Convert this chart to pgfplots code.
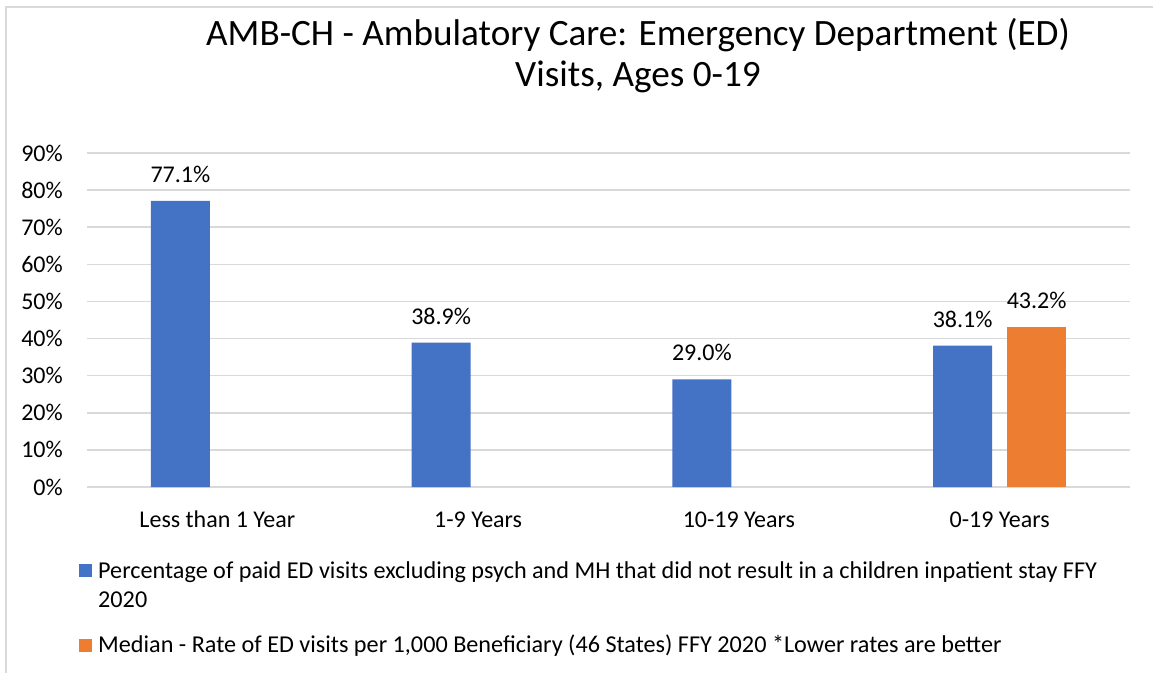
\documentclass[border=0pt]{standalone}
\usepackage{pgfplots}
\pgfplotsset{compat=1.18}
\usepackage{fontspec}
\setmainfont{Carlito}
\definecolor{cblue}{HTML}{4472C4}
\definecolor{corange}{HTML}{ED7D31}
\definecolor{cgrid}{HTML}{D9D9D9}
\begin{document}
\begin{tikzpicture}[x=1pt,y=1pt]
\path[use as bounding box] (0,0) rectangle (1153,-673);
\draw[cgrid, line width=2pt] (6,-673) -- (6,-7) -- (1153,-7);
\begin{axis}[
  at={(87pt,-487pt)}, anchor=south west,
  width=1043pt, height=334pt, scale only axis,
  xmin=-0.5, xmax=3.5, ymin=0, ymax=90,
  axis line style={draw=none}, tick style={draw=none},
  ymajorgrids, grid style={cgrid, line width=1.6pt},
  ytick={0,10,20,30,40,50,60,70,80,90},
  yticklabels={0\%,10\%,20\%,30\%,40\%,50\%,60\%,70\%,80\%,90\%},
  xtick={0,1,2,3},
  xticklabels={Less than 1 Year,1-9 Years,10-19 Years,0-19 Years},
  tick label style={font=\fontsize{24}{29}\selectfont, text=black},
  yticklabel style={anchor=east, inner sep=0pt, xshift=-24pt},
  xticklabel style={anchor=base, inner sep=0pt, yshift=-36pt},
  ybar, bar width=59pt,
  nodes near coords={\pgfmathprintnumber[fixed,fixed zerofill,precision=1,assume math mode=true]{\pgfplotspointmeta}\%},
  every node near coord/.append style={font=\fontsize{24}{29}\selectfont, text=black, anchor=base, inner sep=0pt, yshift=18.5pt},
  title={AMB-CH - Ambulatory Care: Emergency Department (ED)\\Visits, Ages 0-19},
  title style={at={(axis description cs:0.5283,1.1826)}, anchor=base, align=center, font=\fontsize{37.2}{41}\selectfont, text=black, inner sep=0pt},
]
\addplot[fill=cblue, draw=none, bar shift=-37pt] coordinates {(0,77.1) (1,38.9) (2,29.0) (3,38.1)};
\addplot[fill=corange, draw=none, bar shift=37pt] coordinates {(3,43.2)};
\end{axis}
% legend
\begin{scope}[every node/.style={anchor=base west, inner sep=0pt, font=\fontsize{24.2}{29}\selectfont, text=black}]
\fill[cblue] (79,-577) rectangle (92,-564);
\node at (98,-578) {Percentage of paid ED visits excluding psych and MH that did not result in a children inpatient stay FFY};
\node at (98,-607) {2020};
\fill[corange] (79,-652) rectangle (92,-639);
\node at (98,-652) {Median - Rate of ED visits per 1,000 Beneficiary (46 States) FFY 2020 *Lower rates are better};
\end{scope}
\end{tikzpicture}
\end{document}
